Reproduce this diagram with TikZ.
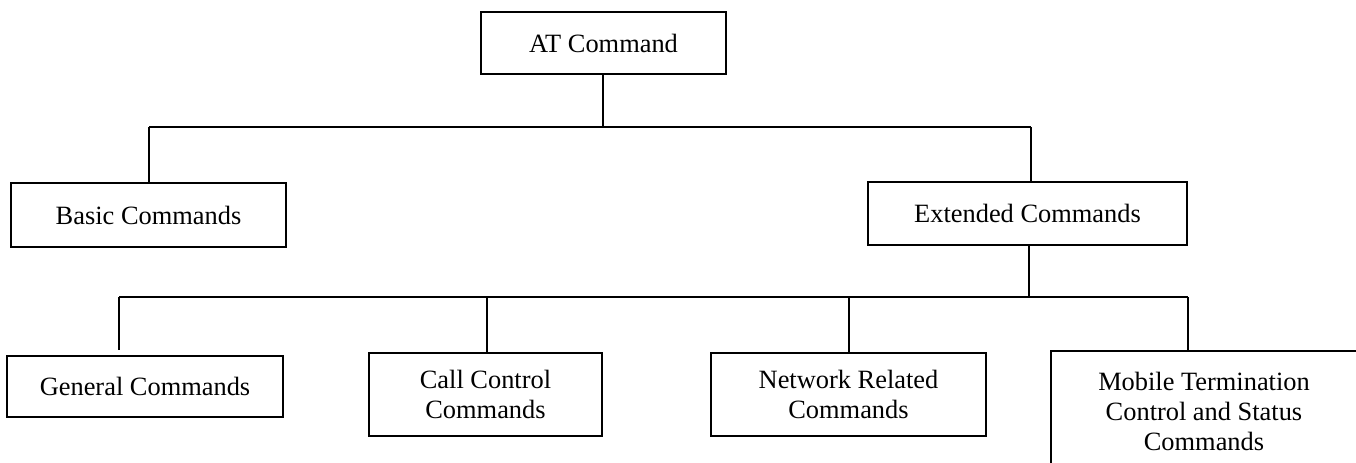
\documentclass[tikz,border=0pt]{standalone}
\usepackage{fontspec}
\setmainfont{Liberation Serif}
\begin{document}
\begin{tikzpicture}[x=0.5pt,y=-0.5pt,
  box/.style={draw=black,line width=0.9pt,rectangle,inner sep=0pt,align=center,
    font=\fontsize{13.2}{15}\selectfont},
  link/.style={draw=black,line width=0.9pt}]
\useasboundingbox (0,0) rectangle (1356,462);
% nodes
\node[box,minimum width=122.5pt,minimum height=31pt] (at) at (603.5,43) {AT Command};
\node[box,minimum width=137.5pt,minimum height=32pt] (basic) at (148.5,215) {Basic Commands};
\node[box,minimum width=159.5pt,minimum height=31.5pt] (ext) at (1027.5,213.5) {Extended Commands};
\node[box,minimum width=138pt,minimum height=30.5pt] (gen) at (145,386.5) {General Commands};
\node[box,minimum width=116.5pt,minimum height=41.5pt] (call) at (485.5,394.5) {Call Control\\Commands};
\node[box,minimum width=137.5pt,minimum height=41.5pt] (net) at (848.5,394.5) {Network Related\\Commands};
\node[box,minimum width=153pt,minimum height=60pt] (mob) at (1204,411) {Mobile Termination\\Control and Status\\Commands};
% bus coordinates
\coordinate (b1l) at (149,127);
\coordinate (b1r) at (1031,127);
\coordinate (b1m) at (603,127);
\coordinate (b2l) at (119,297);
\coordinate (b2r) at (1188,297);
\coordinate (b2m) at (1029,297);
\coordinate (b2c) at (487,297);
\coordinate (b2n) at (849,297);
% connectors
\draw[link] (at.south -| b1m) -- (b1m);
\draw[link] (b1l) -- (b1r);
\draw[link] (b1l) -- (b1l |- basic.north);
\draw[link] (b1r) -- (b1r |- ext.north);
\draw[link] (ext.south -| b2m) -- (b2m);
\draw[link] (b2l) -- (b2r);
\draw[link,shorten >=2.5pt] (b2l) -- (b2l |- gen.north);
\draw[link] (b2c) -- (b2c |- call.north);
\draw[link] (b2n) -- (b2n |- net.north);
\draw[link] (b2r) -- (b2r |- mob.north);
\end{tikzpicture}
\end{document}
